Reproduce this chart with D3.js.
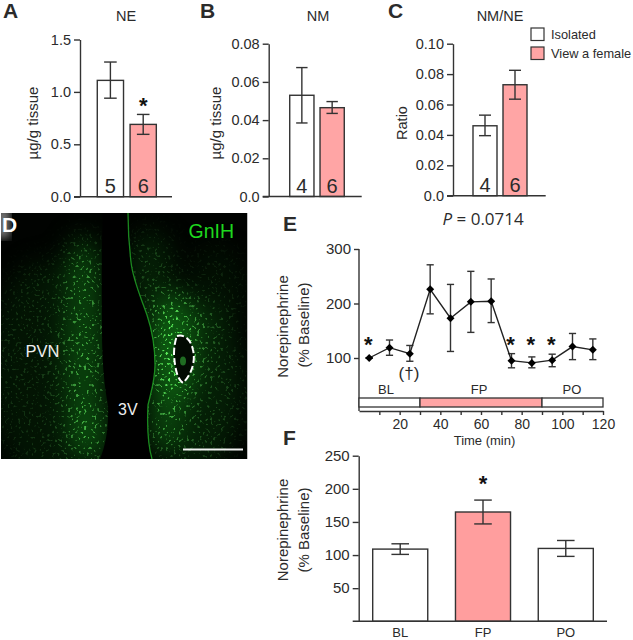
<!DOCTYPE html>
<html>
<head>
<meta charset="utf-8">
<script src="https://cdn.jsdelivr.net/npm/d3@7"></script>
<style>
html, body { margin: 0; padding: 0; background: #fff; }
svg { display: block; }
text { font-family: "Liberation Sans", Arial, sans-serif; fill: #2b2b2b; }
.domain, .tick line { stroke: #333; stroke-width: 1.4; }
.tick text { font-size: 14.5px; fill: #2b2b2b; }
</style>
</head>
<body>
<div class="chart"></div>
<script>
const width = 633;
const height = 640;

// panels A-C
const groups = ["Isolated", "View a female"];
const neValues = [1.11, 0.69];
const neUpper = [1.285, 0.785];
const neLower = [0.94, 0.595];
const neCounts = ["5", "6"];
const neTicks = [0, 0.5, 1, 1.5];
const neTickLabels = ["0.0", "0.5", "1.0", "1.5"];

const nmValues = [0.053, 0.0465];
const nmUpper = [0.0675, 0.0497];
const nmLower = [0.0385, 0.0435];
const nmCounts = ["4", "6"];
const nmTicks = [0, 0.02, 0.04, 0.06, 0.08];
const nmTickLabels = ["0.0", "0.02", "0.04", "0.06", "0.08"];

const ratioValues = [0.046, 0.073];
const ratioUpper = [0.053, 0.0825];
const ratioLower = [0.0395, 0.0635];
const ratioCounts = ["4", "6"];
const ratioTicks = [0, 0.02, 0.04, 0.06, 0.08, 0.1];
const ratioTickLabels = ["0.0", "0.02", "0.04", "0.06", "0.08", "0.10"];

// panel E
const times = [5, 15, 25, 35, 45, 55, 65, 75, 85, 95, 105, 115];
const neTime = [100, 119, 108, 226, 173, 203, 204, 95, 91, 96, 121, 115];
const neTimeUpper = [100, 133, 123, 271, 235, 259, 245, 108, 102, 107, 145, 135];
const neTimeLower = [100, 105, 94, 181, 112, 147, 165, 82, 82, 84, 97, 97];
const starTimes = [5, 75, 85, 95];
const periods = ["BL", "FP", "PO"];
const periodStart = [0, 30, 90];
const periodEnd = [30, 90, 120];
const timeTicks = [10, 20, 30, 40, 50, 60, 70, 80, 90, 100, 110, 120];
const timeLabels = [20, 40, 60, 80, 100, 120];
const pctTicksE = [100, 200, 300];

// panel F
const periodValues = [109, 165, 110];
const periodUpper = [117, 183, 122];
const periodLower = [101, 147, 98];
const pctTicksF = [50, 100, 150, 200, 250];

const white = "#fff";
const pink = "#ffa5a5";
const ink = "#333";

const svg = d3.select(".chart")
    .append("svg")
    .attr("width", width)
    .attr("height", height)
    .attr("viewBox", [0, 0, width, height]);

const defs = svg.append("defs");

function label(txt, x, y, size, opts = {}) {
    return svg.append("text")
        .attr("x", x)
        .attr("y", y)
        .attr("font-size", size)
        .attr("text-anchor", opts.anchor || "start")
        .attr("font-weight", opts.weight || null)
        .style("fill", opts.fill || null)
        .text(txt);
}

function sideLabel(txt, x, y, size) {
    svg.append("text")
        .attr("transform", `translate(${x},${y}) rotate(-90)`)
        .attr("text-anchor", "middle")
        .attr("font-size", size)
        .text(txt);
}

function star(x, y) {
    label("*", x, y, 22, {anchor: "middle", weight: "bold", fill: "#111"});
}

function errorBars(g, xs, upper, lower, cap) {
    const bars = g.append("g")
        .attr("stroke", ink)
        .attr("stroke-width", 1.4)
        .attr("fill", "none")
        .selectAll("g")
        .data(xs.map((x, i) => ({x, hi: upper[i], lo: lower[i]})))
        .join("g");
    bars.append("line").attr("x1", d => d.x).attr("x2", d => d.x).attr("y1", d => d.hi).attr("y2", d => d.lo);
    bars.append("line").attr("x1", d => d.x - cap).attr("x2", d => d.x + cap).attr("y1", d => d.hi).attr("y2", d => d.hi);
    bars.append("line").attr("x1", d => d.x - cap).attr("x2", d => d.x + cap).attr("y1", d => d.lo).attr("y2", d => d.lo);
}

// one bar panel, used for A, B, C and F
function barPanel(p) {
    const y = d3.scaleLinear().domain(p.domain).range(p.yRange);
    const x = d3.scaleBand().domain(p.cats).range(p.xRange)
        .paddingInner(p.padIn).paddingOuter(p.padOut);
    const g = svg.append("g");

    g.append("g")
        .selectAll("rect")
        .data(p.cats)
        .join("rect")
        .attr("x", d => x(d))
        .attr("width", x.bandwidth())
        .attr("y", (d, i) => y(p.values[i]))
        .attr("height", (d, i) => y(0) - y(p.values[i]))
        .attr("fill", (d, i) => p.fills[i])
        .attr("stroke", ink)
        .attr("stroke-width", 1.4);

    errorBars(g, p.cats.map(d => x(d) + x.bandwidth() / 2),
        p.upper.map(y), p.lower.map(y), p.cap);

    const axis = g.append("g")
        .attr("transform", `translate(${p.axisX},0)`)
        .call(d3.axisLeft(y).tickValues(p.ticks).tickSize(6).tickSizeOuter(0)
            .tickFormat((d, i) => p.tickLabels ? p.tickLabels[i] : d));
    if (p.tickFont) axis.selectAll(".tick text").style("font-size", p.tickFont + "px");

    g.append("line")
        .attr("x1", p.axisX - 6)
        .attr("x2", p.baseEnd)
        .attr("y1", y(0))
        .attr("y2", y(0))
        .attr("stroke", ink)
        .attr("stroke-width", 1.4);

    if (p.counts) {
        g.append("g")
            .selectAll("text")
            .data(p.counts)
            .join("text")
            .attr("x", (d, i) => x(p.cats[i]) + x.bandwidth() / 2)
            .attr("y", y(0) - 4)
            .attr("text-anchor", "middle")
            .attr("font-size", 20)
            .text(d => d);
    }
    return {x, y};
}

// A
const a = barPanel({
    cats: groups, values: neValues, upper: neUpper, lower: neLower, counts: neCounts,
    fills: [white, pink], domain: [0, 1.5], yRange: [196.7, 39.5], xRange: [94, 159.6],
    padIn: 0.2, padOut: 0.1, axisX: 80, baseEnd: 172, cap: 6.3, ticks: neTicks, tickLabels: neTickLabels
});
label("A", 3, 18, 21, {weight: "bold"});
label("NE", 126, 21, 14.5, {anchor: "middle"});
sideLabel("µg/g tissue", 38, 123, 15);
star(a.x(groups[1]) + a.x.bandwidth() / 2, 112.5);

// B
barPanel({
    cats: groups, values: nmValues, upper: nmUpper, lower: nmLower, counts: nmCounts,
    fills: [white, pink], domain: [0, 0.08], yRange: [196.5, 43.7], xRange: [286.7, 347.3],
    padIn: 0.2, padOut: 0.1, axisX: 268.7, baseEnd: 361.7, cap: 5.7, ticks: nmTicks, tickLabels: nmTickLabels
});
label("B", 200, 18, 21, {weight: "bold"});
label("NM", 318, 21, 14.5, {anchor: "middle"});
sideLabel("µg/g tissue", 220.5, 123, 15);

// C
barPanel({
    cats: groups, values: ratioValues, upper: ratioUpper, lower: ratioLower, counts: ratioCounts,
    fills: [white, pink], domain: [0, 0.1], yRange: [195.7, 43.7], xRange: [470, 530],
    padIn: 0.2, padOut: 0.1, axisX: 453, baseEnd: 545.7, cap: 6, ticks: ratioTicks, tickLabels: ratioTickLabels
});
label("C", 388, 18, 21, {weight: "bold"});
label("NM/NE", 500, 21, 14.5, {anchor: "middle"});
sideLabel("Ratio", 407, 123, 14.5);

const pText = svg.append("text")
    .attr("x", 442.5)
    .attr("y", 225)
    .attr("font-size", 17)
    .style("font-family", "'Open Sans', sans-serif");
pText.append("tspan").attr("font-style", "italic").text("P");
pText.append("tspan").text(" = 0.0714");

// legend
const legend = svg.append("g")
    .selectAll("g")
    .data(groups)
    .join("g")
    .attr("transform", (d, i) => `translate(531,${28 + i * 19})`);
legend.append("rect")
    .attr("width", 13)
    .attr("height", 12.5)
    .attr("fill", (d, i) => [white, pink][i])
    .attr("stroke", ink)
    .attr("stroke-width", 1.2);
legend.append("text")
    .attr("x", 20)
    .attr("y", 11)
    .attr("font-size", 12.8)
    .text(d => d);

// D, micrograph
function micrograph() {
    const box = {x: 1, y: 213, w: 246.5, h: 246};
    const ventricle = "M103,213 C101,260 102,300 102,330 C102,360 104,385 108,405 C109,425 106,445 100,459 L152,459 C148,445 147,425 148,405 C151,392 155,380 155,365 C155,350 152,330 147,315 C140,295 133,280 131,262 C129,245 128,230 128,213 Z";
    const ventricleEdge = "M128,213 C128,230 129,245 131,262 C133,280 140,295 147,315 C152,330 155,350 155,365 C155,380 151,392 148,405 C147,425 148,445 152,459";

    defs.append("clipPath").attr("id", "photoClip")
        .append("rect").attr("x", box.x).attr("y", box.y).attr("width", box.w).attr("height", box.h);

    defs.append("filter").attr("id", "blur14").append("feGaussianBlur").attr("stdDeviation", 13);
    defs.append("filter").attr("id", "blur2").append("feGaussianBlur").attr("stdDeviation", 0.7);
    defs.append("filter").attr("id", "blur5").append("feGaussianBlur").attr("stdDeviation", 4);

    const speckle = defs.append("filter").attr("id", "speckle")
        .attr("x", 0).attr("y", 0).attr("width", 1).attr("height", 1);
    speckle.append("feTurbulence")
        .attr("type", "fractalNoise")
        .attr("baseFrequency", 0.38)
        .attr("numOctaves", 1)
        .attr("seed", 7);
    speckle.append("feColorMatrix")
        .attr("values", "0 0 0 0 0.12  0 0 0 0 1  0 0 0 0 0.12  11 0 0 0 -6.6");
    speckle.append("feGaussianBlur").attr("stdDeviation", 0.6);

    const mask = defs.append("mask").attr("id", "tissue")
        .attr("maskUnits", "userSpaceOnUse")
        .attr("x", box.x).attr("y", box.y).attr("width", box.w).attr("height", box.h);
    const blobs = mask.append("g").attr("filter", "url(#blur14)");
    // cx, cy, rx, ry, brightness
    [[45, 370, 55, 110, 0.2], [85, 350, 20, 110, 0.65], [90, 435, 20, 30, 0.55],
     [82, 265, 16, 30, 0.3], [172, 350, 24, 58, 1], [165, 420, 16, 38, 0.7],
     [200, 385, 42, 85, 0.3], [150, 270, 22, 40, 0.32], [215, 290, 30, 45, 0.14]]
        .forEach(b => blobs.append("ellipse")
            .attr("cx", b[0]).attr("cy", b[1]).attr("rx", b[2]).attr("ry", b[3])
            .attr("fill", "#fff").attr("opacity", b[4]));

    const photo = svg.append("g").attr("clip-path", "url(#photoClip)");
    photo.append("rect").attr("x", box.x).attr("y", box.y).attr("width", box.w).attr("height", box.h)
        .attr("fill", "#010301");

    const soft = photo.append("g").attr("mask", "url(#tissue)");
    soft.append("rect").attr("x", box.x).attr("y", box.y).attr("width", box.w).attr("height", box.h)
        .attr("fill", "#169a1c").attr("opacity", 0.6);
    soft.append("rect").attr("x", box.x).attr("y", box.y).attr("width", box.w).attr("height", box.h)
        .attr("filter", "url(#speckle)");

    photo.append("rect").attr("x", -4).attr("y", 208).attr("width", 14).attr("height", 30)
        .attr("fill", "#777").attr("filter", "url(#blur5)");

    photo.append("path").attr("d", ventricle).attr("fill", "#000");
    photo.append("path").attr("d", ventricleEdge).attr("fill", "none")
        .attr("stroke", "#22a826").attr("stroke-width", 1.3).attr("stroke-opacity", 0.8).attr("filter", "url(#blur2)");

    const lesion = "M177,336 C185,334 191,340 193,350 C196,362 191,375 183,383 C177,379 175,368 174,355 C174,347 175,341 177,336 Z";
    photo.append("path").attr("d", lesion).attr("fill", "#020a02");
    photo.append("ellipse").attr("cx", 183).attr("cy", 361).attr("rx", 3).attr("ry", 4.5).attr("fill", "#1f6d22");
    photo.append("path").attr("d", lesion).attr("fill", "none")
        .attr("stroke", "#fff").attr("stroke-width", 2).attr("stroke-dasharray", "7 3");

    photo.append("line").attr("x1", 183).attr("x2", 243).attr("y1", 449.5).attr("y2", 449.5)
        .attr("stroke", "#f2f2f2").attr("stroke-width", 2.2);

    label("D", 2, 232, 21, {weight: "bold", fill: "#fff"});
    label("GnIH", 188.5, 237.5, 19.5, {fill: "#1ed81e"});
    label("PVN", 25.5, 357, 16.5, {fill: "#eee"});
    label("3V", 118, 415, 16, {fill: "#eee"});
}
micrograph();

// E
const xTime = d3.scaleLinear().domain([0, 120]).range([359, 603]);
const yPct = d3.scaleLinear().domain([0, 300]).range([412.5, 249]);
const panelE = svg.append("g");

const yAxisE = panelE.append("g")
    .attr("transform", `translate(${xTime(0)},0)`)
    .call(d3.axisLeft(yPct).tickValues(pctTicksE).tickSize(5).tickSizeOuter(0));
yAxisE.select(".domain").attr("d", `M0,${yPct(300)}V411`);
yAxisE.selectAll(".tick text").style("font-size", "15px");

const xAxisE = panelE.append("g")
    .attr("transform", "translate(0,411)")
    .call(d3.axisBottom(xTime).tickValues(timeTicks).tickSize(4).tickPadding(2).tickSizeOuter(0)
        .tickFormat(d => timeLabels.includes(d) ? d : ""));
xAxisE.selectAll("text").attr("dy", "0.85em").style("font-size", "14px");

panelE.append("g")
    .selectAll("rect")
    .data(periods)
    .join("rect")
    .attr("x", (d, i) => xTime(periodStart[i]))
    .attr("width", (d, i) => xTime(periodEnd[i]) - xTime(periodStart[i]))
    .attr("y", 398)
    .attr("height", 9)
    .attr("fill", (d, i) => i == 1 ? pink : white)
    .attr("stroke", ink)
    .attr("stroke-width", 1.3);

panelE.append("g")
    .selectAll("text")
    .data(periods)
    .join("text")
    .attr("x", (d, i) => [386, 479, 572][i])
    .attr("y", 394)
    .attr("text-anchor", "middle")
    .attr("font-size", 13)
    .text(d => d);

errorBars(panelE, times.map(xTime), neTimeUpper.map(yPct), neTimeLower.map(yPct), 3.6);

panelE.append("path")
    .datum(times)
    .attr("fill", "none")
    .attr("stroke", "#222")
    .attr("stroke-width", 1.4)
    .attr("d", d3.line().x(d => xTime(d)).y((d, i) => yPct(neTime[i])));

panelE.append("g")
    .selectAll("path")
    .data(times)
    .join("path")
    .attr("d", d3.symbol(d3.symbolSquare, 32))
    .attr("fill", "#000")
    .attr("transform", (d, i) => `translate(${xTime(d)},${yPct(neTime[i])}) rotate(45)`);

starTimes.forEach(t => star(xTime(t) - 1, 351.5));

label("(†)", 409, 379, 17, {anchor: "middle"});
label("E", 283, 231, 21, {weight: "bold"});
label("Time (min)", 484.5, 444.5, 13, {anchor: "middle"});
sideLabel("Norepinephrine", 288, 326.5, 15);
sideLabel("(% Baseline)", 309, 325, 15);

// F
const f = barPanel({
    cats: periods, values: periodValues, upper: periodUpper, lower: periodLower,
    fills: [white, "#ff9e9e", white], domain: [0, 250], yRange: [621.3, 455.7], xRange: [372.7, 593.3],
    padIn: 0.335, padOut: 0, axisX: 358.7, baseEnd: 607, cap: 8.8, ticks: pctTicksF, tickFont: 15
});
label("F", 283, 445, 21, {weight: "bold"});
sideLabel("Norepinephrine", 288, 530, 15);
sideLabel("(% Baseline)", 309, 530, 15);
star(f.x("FP") + f.x.bandwidth() / 2, 491);
svg.append("g")
    .selectAll("text")
    .data(periods)
    .join("text")
    .attr("x", d => f.x(d) + f.x.bandwidth() / 2)
    .attr("y", 637)
    .attr("text-anchor", "middle")
    .attr("font-size", 13)
    .text(d => d);
</script>
</body>
</html>
